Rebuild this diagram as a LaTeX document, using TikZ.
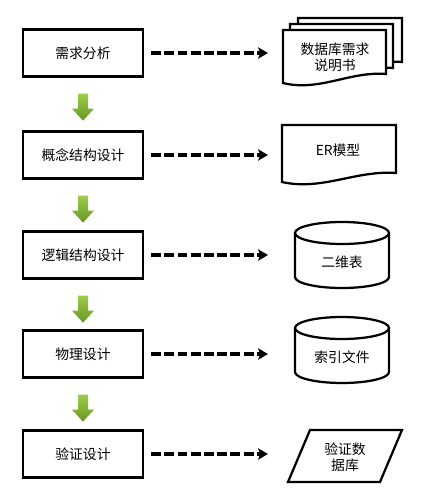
\documentclass[tikz,border=0pt]{standalone}
\usepackage{fontspec}
\setmainfont{Noto Sans CJK SC}
\usetikzlibrary{arrows.meta}
\definecolor{leaflight}{RGB}{158,204,74}
\definecolor{leafdark}{RGB}{104,150,38}
\def\docshape(#1,#2)(#3,#4){\draw[outline] (#1,#2) -- (#3,#2) -- (#3,#4-9) .. controls ({0.35*#1+0.65*#3},#4-12) and ({0.65*#1+0.35*#3},#4+9) .. (#1,#4) -- cycle;}
\def\dbshape(#1,#2){\draw[outline] (#1-47,#2) -- ++(0,44) arc[start angle=180, end angle=360, x radius=1.175cm, y radius=0.275cm] -- ++(0,-44); \draw[outline] (#1,#2) ellipse[x radius=1.175cm, y radius=0.275cm];}
\def\greenarrow(#1){\shade[top color=leaflight, bottom color=leafdark] ([yshift=-0.4cm]#1.south) ++(-5,0) -- ++(10,0) -- ++(0,15) -- ++(6,0) -- ++(-11,12) -- ++(-11,-12) -- ++(6,0) -- cycle;}

\begin{document}
\begin{tikzpicture}[x=0.025cm, y=-0.025cm,
		stage/.style={draw, line width=1.6pt, minimum width=3cm, minimum height=1.175cm, font=\fontsize{9.8}{12}\selectfont},
		result/.style={align=center, font=\fontsize{9.8}{11.5}\selectfont},
		outline/.style={line width=1.6pt, fill=white},
		flow/.style={line width=2.2pt, dash pattern=on 7pt off 2.4pt, shorten <=0.175cm, -{Stealth[length=7pt, width=8pt, inset=1.5pt]}}]
		%%%%% START %%%%%
		
		\useasboundingbox (0,0) rectangle (422,500);
		
		\node[stage] (s1) at (83, 53) {需求分析};
		\node[stage] (s2) at (83, 155) {概念结构设计};
		\node[stage] (s3) at (83, 255) {逻辑结构设计};
		\node[stage] (s4) at (83, 354) {物理设计};
		\node[stage] (s5) at (83, 454) {验证设计};
		
		\greenarrow(s1)
		\greenarrow(s2)
		\greenarrow(s3)
		\greenarrow(s4)
		
		\docshape(298,18)(402,71)
		\docshape(290,24)(393,77)
		\docshape(283,30)(386,83)
		\node[result] (r1) at (335, 57) {数据库需求\\说明书};
		
		\docshape(282,125)(396,182)
		\node[result] (r2) at (338, 150) {ER模型};
		
		\dbshape(342,233)
		\node[result] (r3) at (342, 262) {二维表};
		
		\dbshape(342,328)
		\node[result] (r4) at (342, 357) {索引文件};
		
		\draw[outline] (310,430) -- (402,430) -- (380,482) -- (288,482) -- cycle;
		\node[result] (r5) at (345, 457) {验证数\\据库};
		
		\coordinate (a1) at (268, 53);
		\coordinate (a2) at (268, 155);
		\coordinate (a3) at (268, 255);
		\coordinate (a4) at (268, 354);
		\coordinate (a5) at (268, 454);
		
		\draw[flow] (s1.east) -- (a1);
		\draw[flow] (s2.east) -- (a2);
		\draw[flow] (s3.east) -- (a3);
		\draw[flow] (s4.east) -- (a4);
		\draw[flow] (s5.east) -- (a5);
		
		%%%%% END %%%%%
	\end{tikzpicture}
\end{document}
